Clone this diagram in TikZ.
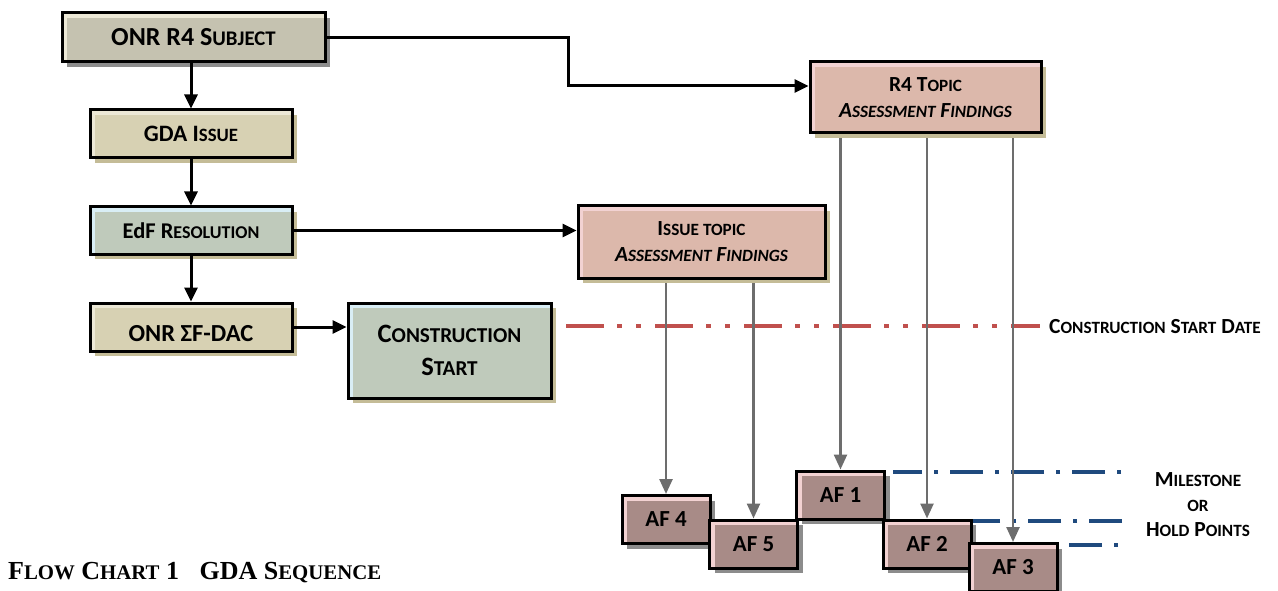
\documentclass[tikz,border=0pt]{standalone}
\usepackage{fontspec}
\setmainfont{Carlito}
\newfontfamily\calfont{Carlito}
\newfontfamily\calsc[Scale=0.8]{Carlito}
\newfontfamily\tms{Liberation Serif}
\newfontfamily\tmssc[Scale=0.8]{Liberation Serif}
\usetikzlibrary{arrows.meta,shadows,backgrounds}
\definecolor{subjfill}{HTML}{C5C2B0}
\definecolor{tanfill}{HTML}{D7D1B3}
\definecolor{grnfill}{HTML}{BFCABB}
\definecolor{pinkfill}{HTML}{DCB8AB}
\definecolor{affill}{HTML}{A88B87}
\definecolor{hlcream}{HTML}{ECE8D6}
\definecolor{hlblue}{HTML}{D9EEF5}
\definecolor{hlpink}{HTML}{F2D2D2}
\definecolor{shgray}{HTML}{8C8C8C}
\definecolor{shtan}{HTML}{C4BC97}
\definecolor{linegray}{HTML}{6D6D6D}
\definecolor{csdred}{HTML}{C0504D}
\definecolor{msblue}{HTML}{1F4A7E}
\tikzset{
  x=1pt, y=-1pt,
  box/.style={draw=black, line width=3pt, inner sep=0pt, align=center, text=black,
    font=\calfont\bfseries\fontsize{22.5}{27}\selectfont},
  hl/.style={path picture={
    \fill[#1] (path picture bounding box.north west) rectangle ([yshift=-5pt]path picture bounding box.north east);
    \fill[#1] (path picture bounding box.north west) rectangle ([xshift=5pt]path picture bounding box.south west);}},
  shg/.style={drop shadow={shadow xshift=5pt, shadow yshift=-5pt, fill=#1, opacity=1}},
  mainbox/.style={box, minimum width=202pt, minimum height=48pt},
  topicbox/.style={box, fill=pinkfill, hl=hlpink, shg=shtan, font=\calfont\bfseries\fontsize{21.5}{26}\selectfont},
  afbox/.style={box, fill=affill, hl=hlpink, shg=shgray, minimum width=88pt, minimum height=48pt,
    font=\calfont\bfseries\fontsize{23}{24}\selectfont},
  blk/.style={line width=3pt, black, -{Triangle[length=14pt,width=13pt]}},
  gry/.style={line width=2.5pt, linegray, -{Triangle[length=15pt,width=13pt]}},
  lbl/.style={inner sep=0pt, text=black, font=\calfont\bfseries\fontsize{21.5}{25}\selectfont, align=center},
}
\newcommand\SmC[1]{{\calsc #1}}
\newcommand\TmC[1]{{\tmssc #1}}
\begin{document}
\begin{tikzpicture}
\useasboundingbox (0,0) rectangle (1278,591);
% left column
\node[box, fill=subjfill, hl=hlcream, shg=shgray, minimum width=263pt, minimum height=49pt, font=\calfont\bfseries\fontsize{26}{30}\selectfont] (subj) at (193.5,37.5) {\raisebox{-3pt}{ONR R4 S\SmC{UBJECT}}};
\node[mainbox, fill=tanfill, hl=hlcream, shg=shtan, font=\calfont\bfseries\fontsize{23.5}{27}\selectfont] (gda) at (191,134) {GDA I\SmC{SSUE}};
\node[mainbox, fill=grnfill, hl=hlblue, shg=shtan, minimum height=47pt] (edf) at (191,230.5) {EdF R\SmC{ESOLUTION}};
\node[mainbox, fill=tanfill, hl=hlcream, shg=shtan, text depth=0pt, font=\calfont\bfseries\fontsize{24.5}{27}\selectfont] (sig) at (191,327) {\raisebox{-12pt}{ONR ΣF-DAC}};
\node[box, fill=grnfill, hl=hlblue, shg=shtan, minimum width=203pt, minimum height=95pt, font=\calfont\bfseries\fontsize{26.5}{33}\selectfont] (cons) at (449.5,350.5) {C\SmC{ONSTRUCTION}\\S\SmC{TART}};
% topics
\node[topicbox, minimum width=231pt, minimum height=71pt] (r4) at (925.5,97.5) {R4 T\SmC{OPIC}\\\itshape A\SmC{SSESSMENT} F\SmC{INDINGS}};
\node[topicbox, minimum width=247pt, minimum height=72pt] (iss) at (701.5,242) {I\SmC{SSUE TOPIC}\\\itshape A\SmC{SSESSMENT} F\SmC{INDINGS}};
% AF boxes
\node[afbox] (af4) at (666,519.5) {AF 4};
\node[afbox] (af5) at (753.5,544) {AF 5};
\node[afbox] (af1) at (840.5,495) {AF 1};
\node[afbox] (af2) at (927,544) {AF 2};
\node[afbox] (af3) at (1013,567.5) {AF 3};
% labels
\node[lbl, anchor=west] (csd) at (1049,327) {C\SmC{ONSTRUCTION} S\SmC{TART} D\SmC{ATE}};
\node[lbl] (ms) at (1198,505) {M\SmC{ILESTONE}\\\SmC{OR}\\H\SmC{OLD} P\SmC{OINTS}};
\node[inner sep=0pt, anchor=base west, font=\tms\bfseries\fontsize{26}{30}\selectfont] (cap) at (8,579) {F\TmC{LOW} C\TmC{HART} 1\hspace{14pt} GDA S\TmC{EQUENCE}};
% dashed lines
\coordinate (rs) at (566,326);
\coordinate (re) at (1040,326);
\coordinate (b1s) at (1121,472);
\coordinate (b1e) at (893,472);
\coordinate (b2s) at (1122,521);
\coordinate (b2e) at (972,521);
\coordinate (b3s) at (1118,545);
\coordinate (b3e) at (1068,545);
\begin{scope}[on background layer]
\draw[csdred, line width=4.5pt, dash pattern=on 38pt off 13pt on 5pt off 14pt on 5pt off 14pt] (rs) -- (re);
\draw[msblue, line width=4pt, dash pattern=on 4pt off 12pt on 33pt off 12pt] (b1s) -- (b1e);
\draw[msblue, line width=4pt, dash pattern=on 4pt off 12pt on 33pt off 12pt, dash phase=16pt] (b2s) -- (b2e);
\draw[msblue, line width=4pt, dash pattern=on 4pt off 12pt on 33pt off 12pt] (b3s) -- (b3e);
% gray connectors
\draw[gry] (iss.south -| af4.north) -- (af4.north);
\draw[gry] (iss.south -| af5.north) -- (af5.north);
\draw[gry] (r4.south -| af1.north) -- (af1.north);
\draw[gry] (r4.south -| af2.north) -- (af2.north);
\draw[gry] (r4.south -| af3.north) -- (af3.north);
\end{scope}
% black connectors
\draw[blk] (gda.north |- subj.south) -- (gda.north);
\draw[blk] (gda.south) -- (edf.north);
\draw[blk] (edf.south) -- (sig.north);
\draw[blk] (edf.east) -- (edf.east -| iss.west);
\draw[blk] (sig.east) -- (sig.east -| cons.west);
\draw[blk] (subj.east) -- ++(242,0) |- ([yshift=11.5pt]r4.west);
\end{tikzpicture}
\end{document}
